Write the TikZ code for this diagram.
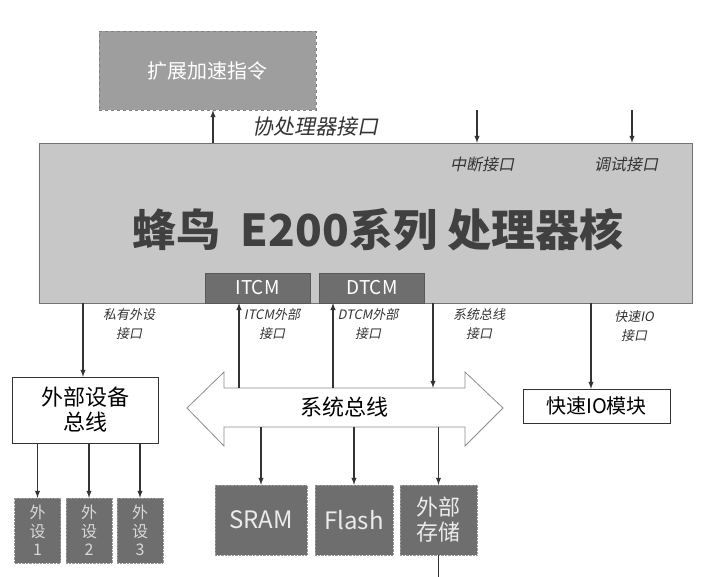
\documentclass[tikz,border=0pt]{standalone}
\usepackage{fontspec}
\setmainfont{Noto Sans CJK SC}
\newfontfamily\slfont[FakeSlant=0.2]{Noto Sans CJK SC}
\usepackage{xcolor}
\usepackage{tikz}
\definecolor{corefill}{rgb}{0.78,0.78,0.78}
\definecolor{extfill}{rgb}{0.62,0.62,0.62}
\definecolor{memfill}{rgb}{0.43,0.43,0.43}
\definecolor{lin}{rgb}{0.2,0.2,0.2}
\usetikzlibrary{calc,positioning,arrows}
\tikzset{
  corebox/.style={draw=black!55,fill=corefill,inner sep=0},
  tcmbox/.style={fill=memfill,draw=memfill!80!black,text=white,inner sep=0,
    minimum width=105,minimum height=30,font=\fontsize{19}{21}\selectfont},
  extbox/.style={fill=extfill,draw=black!50,dashed,text=white,inner sep=0,
    minimum width=217,minimum height=79,font=\fontsize{20}{24}\selectfont},
  membox/.style={fill=memfill,draw=black!40,densely dotted,text=white!92!black,inner sep=0,
    minimum height=70,align=center,font=\fontsize{24}{28}\selectfont},
  perbox/.style={fill=memfill,draw=black!40,densely dotted,text=white!85!black,inner sep=0,
    minimum width=46,minimum height=65,align=center,font=\fontsize{16}{18.5}\selectfont},
  whitebox/.style={draw=lin,fill=white,inner sep=0,align=center},
  lab/.style={text=black!80,align=center,font=\slfont\fontsize{13}{19}\selectfont},
  wire/.style={draw=lin,line width=1.4pt}
}
\begin{document}
\begin{tikzpicture}[x=1pt,y=-1pt,>=latex]
\useasboundingbox (0,0) rectangle (720,576);

% processor core
\node[corebox,minimum width=653,minimum height=160] (core) at (365.5,223) {};
\node[text=black!75,font=\bfseries\fontsize{44}{48}\selectfont] (title) at (378,230) {蜂鸟~~E200系列 处理器核};
\node[tcmbox] (itcm) at (257.5,288) {ITCM};
\node[tcmbox] (dtcm) at (372,288) {DTCM};

% coprocessor
\node[extbox] (ext) at (207.5,70.5) {扩展加速指令};
\coordinate (cport) at (213,143);
\draw[wire,->] (cport) -- (cport |- ext.south);
\node[lab,font=\slfont\fontsize{21}{24}\selectfont] (coplab) at (315,127) {协处理器接口};

% interrupt / debug
\coordinate (irq) at (477,110);
\coordinate (dbg) at (632,110);
\draw[wire,->] (irq) -- (irq |- core.north);
\draw[wire,->] (dbg) -- (dbg |- core.north);
\node[lab,font=\slfont\fontsize{16}{18}\selectfont] (irqlab) at (482,164) {中断接口};
\node[lab,font=\slfont\fontsize{16}{18}\selectfont] (dbglab) at (626,164) {调试接口};

% system bus
\draw[draw=black!45,fill=white,line width=0.8pt] (187,408) -- (224,372) -- (224,388) -- (465,388) -- (465,372)
  -- (503,408) -- (465,446) -- (465,427) -- (224,427) -- (224,446) -- cycle;
\node[inner sep=0,minimum width=241,minimum height=39,font=\fontsize{22}{24}\selectfont] (bus) at (344.5,407.5) {系统总线};

% ports below the core
\coordinate (iport) at (239,303);
\coordinate (dport) at (333,303);
\coordinate (sport) at (433,303);
\draw[wire,->] (iport |- bus.north) -- (iport);
\draw[wire,->] (dport |- bus.north) -- (dport);
\draw[wire,->] (sport) -- (sport |- bus.north);
\node[lab] (plab) at (129,324) {私有外设\\接口};
\node[lab] (ilab) at (272,324) {ITCM外部\\接口};
\node[lab] (dlab) at (368,324) {DTCM外部\\接口};
\node[lab] (slab) at (479,324) {系统总线\\接口};
\node[lab] (flab) at (634,326) {快速IO\\接口};

% peripheral bus and fast io
\node[whitebox,minimum width=146,minimum height=66,font=\fontsize{22}{25}\selectfont] (peribus) at (85,410) {外部设备\\总线};
\node[whitebox,minimum width=147,minimum height=34,font=\fontsize{20}{22}\selectfont] (fastio) at (596.5,406) {快速IO模块};
\coordinate (pport) at (83,303);
\coordinate (fport) at (591,303);
\draw[wire,->] (pport) -- (pport |- peribus.north);
\draw[wire,->] (fport) -- (fport |- fastio.north);

% peripherals
\node[perbox] (per1) at (37.5,530.5) {外\\设\\1};
\node[perbox] (per2) at (89,530.5) {外\\设\\2};
\node[perbox] (per3) at (140,530.5) {外\\设\\3};
\draw[wire,->] (peribus.south -| per1) -- (per1.north);
\draw[wire,->] (peribus.south -| per2) -- (per2.north);
\draw[wire,->] (peribus.south -| per3) -- (per3.north);

% memories
\node[membox,minimum width=92] (sram) at (261,520) {SRAM};
\node[membox,minimum width=78] (flash) at (354,520) {Flash};
\node[membox,minimum width=77,font=\fontsize{22}{25}\selectfont] (xmem) at (438.5,520) {外部\\存储};
\draw[wire,->] (bus.south -| sram) -- (sram.north);
\draw[wire,->] (bus.south -| flash) -- (flash.north);
\draw[wire,->] (bus.south -| xmem) -- (xmem.north);
\coordinate (xout) at (438.5,580);
\draw[wire] (xmem.south) -- (xout);
\end{tikzpicture}
\end{document}
